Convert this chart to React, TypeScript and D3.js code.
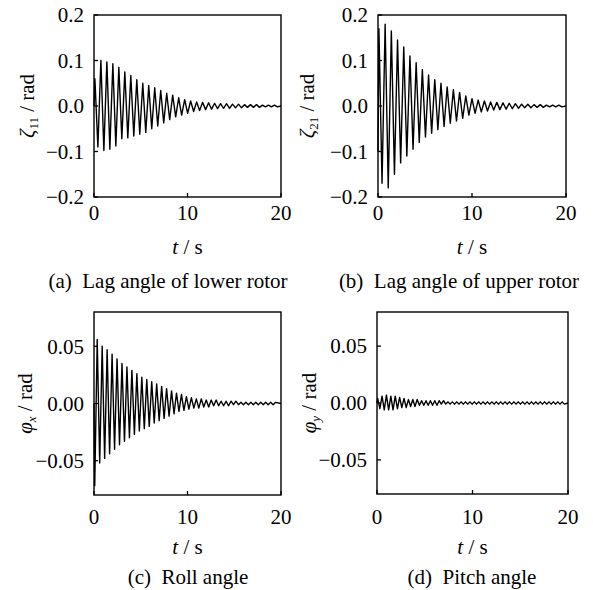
import React from "react";
import * as d3 from "d3";

// ---------- data (extrema) ----------
const xTicks = [0, 10, 20];
const yTicksLag = [-0.2, -0.1, 0.0, 0.1, 0.2];
const yTicksAtt = [-0.05, 0.0, 0.05];

// (a) lag angle of lower rotor: half-cycle extrema, starting with a max
const aHalfPeriod = 0.32;
const aUpper = [0.06, 0.1, 0.097, 0.093, 0.085, 0.075, 0.067, 0.058, 0.05, 0.045, 0.04, 0.034, 0.028, 0.024, 0.018, 0.014, 0.011, 0.009, 0.008, 0.007, 0.006, 0.005, 0.005, 0.004, 0.004, 0.003, 0.003, 0.003, 0.002, 0.002, 0.002];
const aLower = [-0.09, -0.098, -0.095, -0.088, -0.072, -0.07, -0.066, -0.062, -0.058, -0.05, -0.044, -0.037, -0.03, -0.024, -0.02, -0.016, -0.012, -0.01, -0.008, -0.007, -0.006, -0.005, -0.005, -0.004, -0.004, -0.003, -0.003, -0.003, -0.002, -0.002, -0.002];

// (b) lag angle of upper rotor
const bHalfPeriod = 0.33;
const bStart = -0.1;
const bUpper = [0.17, 0.18, 0.165, 0.145, 0.13, 0.11, 0.095, 0.08, 0.068, 0.058, 0.05, 0.042, 0.036, 0.03, 0.022, 0.016, 0.013, 0.011, 0.009, 0.008, 0.007, 0.006, 0.005, 0.004, 0.004, 0.003, 0.003, 0.002, 0.002, 0.002];
const bLower = [-0.17, -0.18, -0.15, -0.125, -0.11, -0.095, -0.08, -0.068, -0.06, -0.052, -0.045, -0.038, -0.033, -0.027, -0.02, -0.016, -0.013, -0.011, -0.009, -0.008, -0.007, -0.006, -0.005, -0.004, -0.004, -0.003, -0.003, -0.002, -0.002, -0.002];

// (c) roll angle (starts with a min)
const cHalfPeriod = 0.265;
const cUpper = [0.056, 0.05, 0.047, 0.043, 0.039, 0.035, 0.032, 0.029, 0.026, 0.023, 0.021, 0.019, 0.017, 0.015, 0.013, 0.011, 0.009, 0.008, 0.006, 0.005, 0.004, 0.004, 0.003, 0.003, 0.003, 0.002, 0.002, 0.002, 0.002, 0.001, 0.001, 0.001, 0.001, 0.001, 0.001, 0.001, 0.001];
const cLower = [-0.072, -0.052, -0.048, -0.044, -0.04, -0.036, -0.033, -0.03, -0.027, -0.024, -0.022, -0.02, -0.017, -0.015, -0.013, -0.011, -0.009, -0.007, -0.006, -0.005, -0.004, -0.004, -0.003, -0.003, -0.002, -0.002, -0.002, -0.002, -0.001, -0.001, -0.001, -0.001, -0.001, -0.001, -0.001, -0.001, -0.001];

// (d) pitch angle
const dHalfPeriod = 0.23;
const dUpper = [0.004, 0.006, 0.007, 0.006, 0.006, 0.005, 0.004, 0.003, 0.003, 0.003, 0.002, 0.002, 0.002, 0.002, 0.002, 0.002, 0.001, 0.001, 0.001, 0.001, 0.001, 0.001, 0.001, 0.001, 0.001, 0.001, 0.001, 0.001, 0.001, 0.001, 0.001, 0.001, 0.001, 0.001, 0.001, 0.001, 0.001, 0.001, 0.001, 0.001, 0.001, 0.001, 0.001];
const dLower = [-0.005, -0.006, -0.006, -0.006, -0.005, -0.004, -0.004, -0.003, -0.003, -0.002, -0.002, -0.002, -0.002, -0.002, -0.001, -0.001, -0.001, -0.001, -0.001, -0.001, -0.001, -0.001, -0.001, -0.001, -0.001, -0.001, -0.001, -0.001, -0.001, -0.001, -0.001, -0.001, -0.001, -0.001, -0.001, -0.001, -0.001, -0.001, -0.001, -0.001, -0.001, -0.001, -0.001];

type Pt = [number, number];

function buildSeries(first: number[], second: number[], half: number, start: number | null): Pt[] {
  const pts: Pt[] = [];
  pts.push([0, start !== null ? start : 0]);
  let t = half * 0.3;
  const n = Math.max(first.length, second.length);
  for (let i = 0; i < n; i++) {
    if (i < first.length) {
      pts.push([t, first[i]]);
      t += half;
    }
    if (i < second.length) {
      pts.push([t, second[i]]);
      t += half;
    }
  }
  const out = pts.filter((p) => p[0] <= 20);
  out.push([20, 0]);
  return out;
}

const FONT = "'Liberation Serif', 'Times New Roman', serif";
const FS = 21;

type PanelProps = {
  left: number;
  right: number;
  top: number;
  bottom: number;
  yDomain: [number, number];
  yTicks: number[];
  yFmt: (v: number) => string;
  data: Pt[];
  yLabel: React.ReactNode;
  yLabelX: number;
  caption: string;
  captionX: number;
  tickLabelY: number;
  axisTitleY: number;
  captionY: number;
};

function Panel(p: PanelProps) {
  const x = d3.scaleLinear().domain([0, 20]).range([p.left, p.right]);
  const y = d3.scaleLinear().domain(p.yDomain).range([p.bottom, p.top]);
  const line = d3
    .line<Pt>()
    .x((d) => x(d[0]))
    .y((d) => y(d[1]));
  const tl = 4;
  const midY = (p.top + p.bottom) / 2;
  return (
    <g>
      <path d={line(p.data) || ""} fill="none" stroke="#000" strokeWidth={1.4} strokeLinejoin="round" />
      <rect
        x={p.left}
        y={p.top}
        width={p.right - p.left}
        height={p.bottom - p.top}
        fill="none"
        stroke="#000"
        strokeWidth={1.4}
      />
      {p.yTicks.map((v) => (
        <g key={"y" + v}>
          <line x1={p.left} x2={p.left + tl} y1={y(v)} y2={y(v)} stroke="#000" strokeWidth={1.3} />
          <text
            x={p.left - 10}
            y={y(v)}
            dy="0.35em"
            textAnchor="end"
            fontFamily={FONT}
            fontSize={FS}
          >
            {p.yFmt(v)}
          </text>
        </g>
      ))}
      {xTicks.map((v) => (
        <g key={"x" + v}>
          <line x1={x(v)} x2={x(v)} y1={p.bottom} y2={p.bottom - tl} stroke="#000" strokeWidth={1.3} />
          <text x={x(v)} y={p.tickLabelY} textAnchor="middle" fontFamily={FONT} fontSize={FS}>
            {v}
          </text>
        </g>
      ))}
      <text
        transform={`translate(${p.yLabelX},${midY}) rotate(-90)`}
        textAnchor="middle"
        fontFamily={FONT}
        fontSize={FS}
      >
        {p.yLabel}
      </text>
      <text
        x={(p.left + p.right) / 2}
        y={p.axisTitleY}
        textAnchor="middle"
        fontFamily={FONT}
        fontSize={FS}
      >
        <tspan fontStyle="italic">t</tspan>
        <tspan> / s</tspan>
      </text>
      <text
        x={p.captionX}
        y={p.captionY}
        textAnchor="middle"
        fontFamily={FONT}
        fontSize={21}
        style={{ whiteSpace: "pre" }}
      >
        {p.caption}
      </text>
    </g>
  );
}

function SubLabel({ sym, sub, italicSub }: { sym: string; sub: string; italicSub?: boolean }) {
  return (
    <>
      <tspan fontStyle="italic">{sym}</tspan>
      <tspan fontSize={13} dy={4} fontStyle={italicSub ? "italic" : "normal"}>
        {sub}
      </tspan>
      <tspan dy={-4}> / rad</tspan>
    </>
  );
}

export default function App() {
  const fmt1 = (v: number) => (v < 0 ? "\u2212" : "") + Math.abs(v).toFixed(1);
  const fmt2 = (v: number) => (v < 0 ? "\u2212" : "") + Math.abs(v).toFixed(2);
  const dataA = buildSeries(aUpper, aLower, aHalfPeriod, null);
  const dataB = buildSeries(bUpper, bLower, bHalfPeriod, bStart);
  const dataC = buildSeries(cLower, cUpper, cHalfPeriod, null);
  const dataD = buildSeries(dUpper, dLower, dHalfPeriod, null);
  return (
    <svg
      width={593}
      height={590}
      style={{ position: "absolute", left: 0, top: 0, background: "#fff" }}
    >
      <rect width={593} height={590} fill="#fff" />
      <Panel
        left={94}
        right={281}
        top={15}
        bottom={197}
        yDomain={[-0.2, 0.2]}
        yTicks={yTicksLag}
        yFmt={fmt1}
        data={dataA}
        yLabel={<SubLabel sym="ζ" sub="11" />}
        yLabelX={34}
        caption="(a)  Lag angle of lower rotor"
        captionX={168}
        tickLabelY={220}
        axisTitleY={254}
        captionY={288}
      />
      <Panel
        left={378}
        right={566}
        top={15}
        bottom={197}
        yDomain={[-0.2, 0.2]}
        yTicks={yTicksLag}
        yFmt={fmt1}
        data={dataB}
        yLabel={<SubLabel sym="ζ" sub="21" />}
        yLabelX={314}
        caption="(b)  Lag angle of upper rotor"
        captionX={459}
        tickLabelY={220}
        axisTitleY={254}
        captionY={288}
      />
      <Panel
        left={94}
        right={281}
        top={312}
        bottom={495}
        yDomain={[-0.08, 0.08]}
        yTicks={yTicksAtt}
        yFmt={fmt2}
        data={dataC}
        yLabel={<SubLabel sym="φ" sub="x" italicSub />}
        yLabelX={32}
        caption="(c)  Roll angle"
        captionX={188}
        tickLabelY={524}
        axisTitleY={554}
        captionY={584}
      />
      <Panel
        left={377}
        right={568}
        top={312}
        bottom={494}
        yDomain={[-0.08, 0.08]}
        yTicks={yTicksAtt}
        yFmt={fmt2}
        data={dataD}
        yLabel={<SubLabel sym="φ" sub="y" italicSub />}
        yLabelX={316}
        caption="(d)  Pitch angle"
        captionX={472}
        tickLabelY={524}
        axisTitleY={554}
        captionY={584}
      />
    </svg>
  );
}
